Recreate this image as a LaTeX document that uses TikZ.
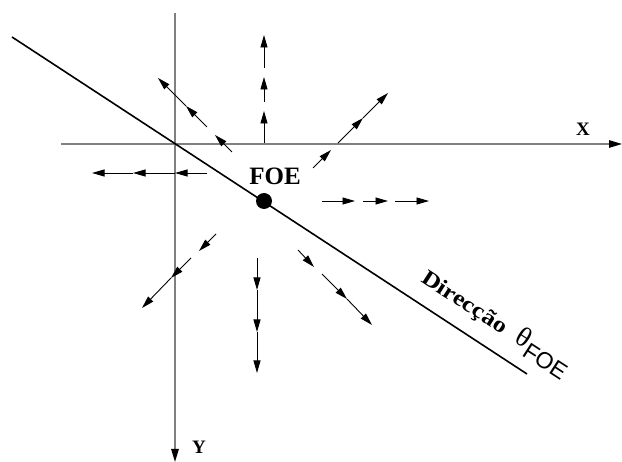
\documentclass[tikz,border=0pt]{standalone}
\usepackage{fontspec}
\setmainfont{Liberation Serif}
\setsansfont{Liberation Sans}
\usetikzlibrary{arrows.meta}
\tikzset{
  axis/.style={draw=black!50, line width=1.3pt, -{Triangle[length=13pt,width=7.5pt,color=black]}},
  flow/.style={draw=black, line width=0.9pt, -{Triangle[length=12.5pt,width=7pt]}},
  dirline/.style={draw=black, line width=1.6pt},
  lbl/.style={inner sep=0pt, font=\bfseries}
}
\begin{document}
\begin{tikzpicture}[x=1pt, y=-1pt]
\useasboundingbox (0,0) rectangle (622,462);
% axes
\coordinate (xs) at (61,144);
\coordinate (xe) at (622,144);
\coordinate (ys) at (175,13);
\coordinate (ye) at (175,462);
\draw[axis] (xs) -- (xe);
\draw[axis] (ys) -- (ye);
\node[lbl, font=\fontsize{19}{19}\bfseries\selectfont] (xl) at (583,129) {X};
\node[lbl, font=\fontsize{19}{19}\bfseries\selectfont] (yl) at (199,447) {Y};
% direction line
\coordinate (ds) at (12,37);
\coordinate (de) at (527,374);
\draw[dirline] (ds) -- (de);
% FOE
\node[circle, fill=black, minimum size=16pt, inner sep=0pt] (foe) at (264,201) {};
\node[lbl, font=\fontsize{25}{25}\bfseries\selectfont] (foel) at (275,176) {FOE};
% flow arrows: up
\draw[flow] (264,143) -- (264,111);
\draw[flow] (264,102) -- (264,77);
\draw[flow] (264,68) -- (264,35);
% upper left
\draw[flow] (232,152) -- (215,135);
\draw[flow] (207,127) -- (186,106);
\draw[flow] (186,106) -- (158,78);
% upper right
\draw[flow] (313,168) -- (331,150);
\draw[flow] (338,143) -- (363,118);
\draw[flow] (363,118) -- (388,93);
% left
\draw[flow] (207,173) -- (175,173);
\draw[flow] (175,173) -- (133,173);
\draw[flow] (133,173) -- (92,173);
% right
\draw[flow] (322,201) -- (355,201);
\draw[flow] (363,201) -- (388,201);
\draw[flow] (395,201) -- (429,201);
% lower left
\draw[flow] (216,234) -- (199,251);
\draw[flow] (191,258) -- (171,278);
\draw[flow] (171,278) -- (142,308);
% down
\draw[flow] (257,258) -- (257,290);
\draw[flow] (257,290) -- (257,332);
\draw[flow] (257,332) -- (257,373);
% lower right
\draw[flow] (298,250) -- (314,267);
\draw[flow] (322,274) -- (347,299);
\draw[flow] (347,299) -- (372,325);
% direction label
\node[inner sep=0pt, anchor=base west, rotate=-33] (dirl) at (420,281)
  {\scalebox{1.18}[1]{\fontsize{22}{22}\bfseries\selectfont Direcção}\hspace{14pt}{\fontsize{28}{28}\selectfont θ}\raisebox{-7pt}{\fontsize{23}{23}\sffamily FOE}};
\end{tikzpicture}
\end{document}
